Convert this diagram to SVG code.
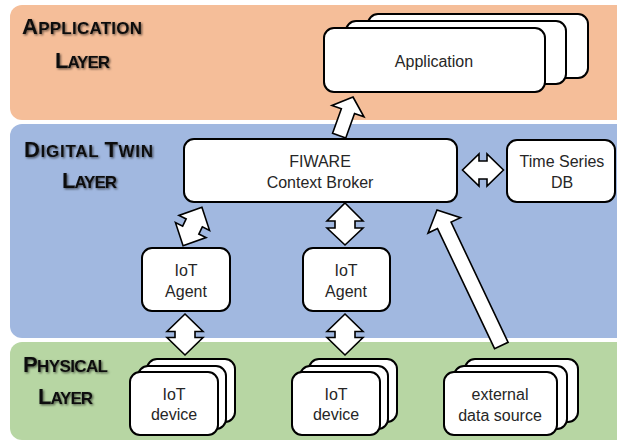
<svg xmlns="http://www.w3.org/2000/svg" width="617" height="441" viewBox="0 0 617 441">
  <defs>
    <filter id="titleShadow" x="-10%" y="-30%" width="130%" height="170%">
      <feDropShadow dx="1.2" dy="1.2" stdDeviation="1.1" flood-color="#000" flood-opacity="0.6"/>
    </filter>
  </defs>
  <style>
    .layer { stroke: none; }
    .title { font-family: "Liberation Sans", Arial, sans-serif; font-weight: bold; fill: #111; filter: url(#titleShadow); }
    .cap { font-size: 22px; }
    .sc { font-size: 17px; }
    .box { fill: #fff; stroke: #000; stroke-width: 2; }
    .label { font-family: "Liberation Sans", Arial, sans-serif; font-size: 16px; fill: #262626; text-anchor: middle; }
    .arrow { fill: #fff; stroke: #000; stroke-width: 1.6; stroke-linejoin: miter; }
  </style>

  <!-- layer bands -->
  <g id="application-layer">
    <rect class="layer" x="10" y="5" width="620" height="115" rx="12" fill="#F5BE99"/>
    <text class="title" x="22" y="34" textLength="120"><tspan class="cap">A</tspan><tspan class="sc">PPLICATION</tspan></text>
    <text class="title" x="55" y="68" textLength="55"><tspan class="cap">L</tspan><tspan class="sc">AYER</tspan></text>
  </g>
  <g id="digital-twin-layer">
    <rect class="layer" x="10" y="124" width="620" height="214" rx="12" fill="#A1B8E0"/>
    <text class="title" x="24" y="157" textLength="129"><tspan class="cap">D</tspan><tspan class="sc">IGITAL </tspan><tspan class="cap">T</tspan><tspan class="sc">WIN</tspan></text>
    <text class="title" x="62" y="188" textLength="55"><tspan class="cap">L</tspan><tspan class="sc">AYER</tspan></text>
  </g>
  <g id="physical-layer">
    <rect class="layer" x="10" y="342" width="620" height="98" rx="12" fill="#B7D6A3"/>
    <text class="title" x="23" y="372" textLength="85"><tspan class="cap">P</tspan><tspan class="sc">HYSICAL</tspan></text>
    <text class="title" x="38" y="404" textLength="55"><tspan class="cap">L</tspan><tspan class="sc">AYER</tspan></text>
  </g>

  <!-- application stack -->
  <g id="application">
    <rect class="box" x="368" y="14" width="220" height="64" rx="10"/>
    <rect class="box" x="346" y="21" width="220" height="63" rx="10"/>
    <rect class="box" x="324" y="28" width="221" height="64" rx="10"/>
    <text class="label" x="434" y="67">Application</text>
  </g>

  <g id="context-broker">
    <rect class="box" x="184" y="139" width="273" height="63" rx="10"/>
    <text class="label" x="320" y="167">FIWARE</text>
    <text class="label" x="320" y="188">Context Broker</text>
  </g>

  <g id="time-series-db">
    <rect class="box" x="507" y="140" width="108" height="62" rx="10"/>
    <text class="label" x="562" y="167">Time Series</text>
    <text class="label" x="562" y="188">DB</text>
  </g>

  <g id="iot-agent-1">
    <rect class="box" x="142" y="248" width="88" height="63" rx="10"/>
    <text class="label" x="186" y="276">IoT</text>
    <text class="label" x="186" y="297">Agent</text>
  </g>

  <g id="iot-agent-2">
    <rect class="box" x="303" y="248" width="87" height="63" rx="10"/>
    <text class="label" x="346" y="276">IoT</text>
    <text class="label" x="346" y="297">Agent</text>
  </g>

  <g id="iot-device-1">
    <rect class="box" x="147" y="359" width="88" height="63" rx="10"/>
    <rect class="box" x="138" y="366" width="88" height="63" rx="10"/>
    <rect class="box" x="130" y="372" width="88" height="63" rx="10"/>
    <text class="label" x="174" y="400">IoT</text>
    <text class="label" x="174" y="420">device</text>
  </g>

  <g id="iot-device-2">
    <rect class="box" x="309" y="359" width="88" height="63" rx="10"/>
    <rect class="box" x="300" y="366" width="88" height="63" rx="10"/>
    <rect class="box" x="292" y="372" width="88" height="63" rx="10"/>
    <text class="label" x="336" y="400">IoT</text>
    <text class="label" x="336" y="420">device</text>
  </g>

  <g id="external-data-source">
    <rect class="box" x="465" y="359" width="113" height="63" rx="10"/>
    <rect class="box" x="454" y="366" width="113" height="63" rx="10"/>
    <rect class="box" x="444" y="372" width="113" height="63" rx="10"/>
    <text class="label" x="500" y="400">external</text>
    <text class="label" x="500" y="421">data source</text>
  </g>

  <!-- block-arrow connectors -->
  <g id="connectors">
    <!-- broker to application (single head, tip at origin) -->
    <path class="arrow" transform="translate(353 97) rotate(19.7)" d="M0,0 L17,15 L7,15 L7,41 L-7,41 L-7,15 L-17,15 Z"/>
    <!-- agent 1 <-> broker -->
    <path class="arrow" transform="translate(192.5 226.5) rotate(26)" d="M0,-21.5 L17,-4 L9,-4 L9,4 L17,4 L0,21.5 L-17,4 L-9,4 L-9,-4 L-17,-4 Z"/>
    <!-- agent 2 <-> broker -->
    <path class="arrow" transform="translate(345 224)" d="M0,-21 L18,-3 L10,-3 L10,4 L18,4 L0,21 L-18,4 L-10,4 L-10,-3 L-18,-3 Z"/>
    <!-- broker <-> time series db -->
    <path class="arrow" transform="translate(483 170) rotate(90)" d="M0,-20.5 L16,-4 L9,-4 L9,4 L16,4 L0,20.5 L-16,4 L-9,4 L-9,-4 L-16,-4 Z"/>
    <!-- device 1 <-> agent 1 -->
    <path class="arrow" transform="translate(185 334.5)" d="M0,-20.5 L18,-3 L10,-3 L10,3 L18,3 L0,20.5 L-18,3 L-10,3 L-10,-3 L-18,-3 Z"/>
    <!-- device 2 <-> agent 2 -->
    <path class="arrow" transform="translate(345 334.5)" d="M0,-20.5 L18,-3 L10,-3 L10,3 L18,3 L0,20.5 L-18,3 L-10,3 L-10,-3 L-18,-3 Z"/>
    <!-- external data source to broker (single head, tip at origin) -->
    <path class="arrow" transform="translate(437 210) rotate(-25.4)" d="M0,0 L18,17 L7.5,17 L7.5,150 L-7.5,150 L-7.5,17 L-18,17 Z"/>
  </g>
</svg>
